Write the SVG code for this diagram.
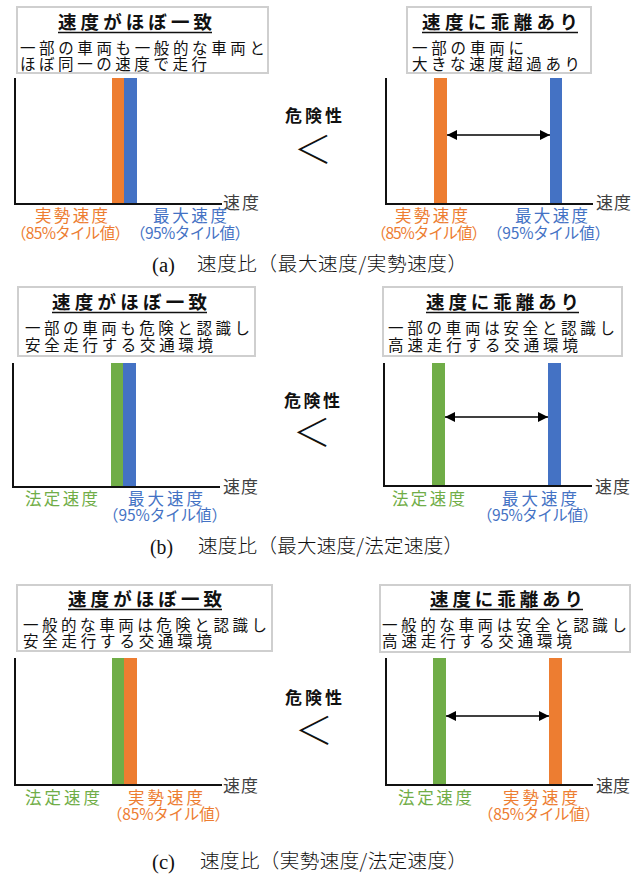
<svg xmlns="http://www.w3.org/2000/svg" width="643" height="877" viewBox="0 0 643 877">
<defs>
<style>
.box{fill:#fff;stroke:#cfcfcf;stroke-width:2}
.t{font-family:"Noto Sans CJK JP","Noto Sans CJK SC",sans-serif;fill:#111}
.title{font-size:18.5px;font-weight:bold}
.line{font-size:15.5px}
.ul{stroke:#111;stroke-width:1.3}
.ax{stroke:#111;stroke-width:2;fill:none}
.axl{font-family:"Noto Sans CJK JP",sans-serif;font-size:17px;fill:#404040}
.lbl{font-family:"Noto Sans CJK JP",sans-serif;font-size:16.5px}
.sub{font-family:"Noto Sans CJK JP",sans-serif;font-size:15.5px}
.or{fill:#ED7D31}.bl{fill:#4472C4}.gr{fill:#70AD47}
.dg{font-family:"Noto Sans CJK JP",sans-serif;font-size:17px;font-weight:bold;fill:#111}
.lt{font-family:"Noto Sans CJK JP",sans-serif;font-size:38px;font-weight:300;fill:#111}
.cap{font-family:"Liberation Serif","Noto Sans CJK JP",serif;font-size:20px;fill:#111}
.capj{font-family:"Noto Sans CJK JP",serif;font-size:19.5px;font-weight:300;fill:#111}
.arr{stroke:#000;stroke-width:1.6;fill:none}
</style>
<marker id="ah" viewBox="0 0 10 10" refX="10" refY="5" markerWidth="11" markerHeight="10" markerUnits="userSpaceOnUse" orient="auto-start-reverse">
<path d="M0,0 L10,5 L0,10 z" fill="#000"/>
</marker>
</defs>

<!-- ===== Panel (a) ===== -->
<g id="a-left">
<rect class="box" x="17" y="7" width="251" height="66"/>
<text class="t title" x="58" y="29" textLength="154" lengthAdjust="spacing">速度がほぼ一致</text>
<line class="ul" x1="58" y1="32.5" x2="212" y2="32.5"/>
<text class="t line" x="20" y="54" textLength="245" lengthAdjust="spacing">一部の車両も一般的な車両と</text>
<text class="t line" x="20" y="69.5" textLength="187" lengthAdjust="spacing">ほぼ同一の速度で走行</text>
<rect class="or" x="112" y="78" width="12" height="126"/>
<rect class="bl" x="124" y="78" width="13" height="126"/>
<polyline class="ax" points="15,78 15,204 222,204"/>
<text class="axl" x="223" y="209" textLength="36" lengthAdjust="spacing">速度</text>
<text class="lbl or" x="35" y="222" textLength="73" lengthAdjust="spacing">実勢速度</text>
<text class="sub or" x="11" y="239" textLength="119" lengthAdjust="spacing">（85%タイル値）</text>
<text class="lbl bl" x="153" y="222" textLength="74" lengthAdjust="spacing">最大速度</text>
<text class="sub bl" x="130" y="239" textLength="120" lengthAdjust="spacing">（95%タイル値）</text>
</g>

<g id="a-mid">
<text class="dg" x="285" y="122" textLength="57" lengthAdjust="spacing">危険性</text>
<text class="lt" x="294" y="163">＜</text>
</g>

<g id="a-right">
<rect class="box" x="407" y="7" width="184" height="66"/>
<text class="t title" x="422" y="29" textLength="156" lengthAdjust="spacing">速度に乖離あり</text>
<line class="ul" x1="422" y1="32.5" x2="578" y2="32.5"/>
<text class="t line" x="412" y="54" textLength="112" lengthAdjust="spacing">一部の車両に</text>
<text class="t line" x="412" y="69.5" textLength="168" lengthAdjust="spacing">大きな速度超過あり</text>
<rect class="or" x="434" y="78" width="13" height="126"/>
<rect class="bl" x="550" y="78" width="12" height="126"/>
<polyline class="ax" points="386,78 386,204 593,204"/>
<text class="axl" x="596" y="209" textLength="35" lengthAdjust="spacing">速度</text>
<text class="lbl or" x="395" y="222" textLength="73" lengthAdjust="spacing">実勢速度</text>
<text class="sub or" x="371" y="239" textLength="116" lengthAdjust="spacing">（85%タイル値）</text>
<text class="lbl bl" x="515" y="222" textLength="73" lengthAdjust="spacing">最大速度</text>
<text class="sub bl" x="487" y="239" textLength="123" lengthAdjust="spacing">（95%タイル値）</text>
</g>

<g id="a-caption">
<text class="cap" x="152" y="272" textLength="23" lengthAdjust="spacingAndGlyphs">(a)</text>
<text class="capj" x="197" y="271" textLength="270" lengthAdjust="spacing">速度比（最大速度/実勢速度）</text>
</g>

<!-- ===== Panel (b) ===== -->
<g id="b-left">
<rect class="box" x="18" y="287" width="237" height="69"/>
<text class="t title" x="52" y="309" textLength="155" lengthAdjust="spacing">速度がほぼ一致</text>
<line class="ul" x1="52" y1="312.5" x2="207" y2="312.5"/>
<text class="t line" x="25" y="334" textLength="225" lengthAdjust="spacing">一部の車両も危険と認識し</text>
<text class="t line" x="25" y="351" textLength="188" lengthAdjust="spacing">安全走行する交通環境</text>
<rect class="gr" x="111" y="363" width="12" height="124"/>
<rect class="bl" x="123" y="363" width="13" height="124"/>
<polyline class="ax" points="13,363 13,487 220,487"/>
<text class="axl" x="223" y="493" textLength="35" lengthAdjust="spacing">速度</text>
<text class="lbl gr" x="25" y="505" textLength="73" lengthAdjust="spacing">法定速度</text>
<text class="lbl bl" x="128" y="505" textLength="75" lengthAdjust="spacing">最大速度</text>
<text class="sub bl" x="103" y="521" textLength="124" lengthAdjust="spacing">（95%タイル値）</text>
</g>

<g id="b-mid">
<text class="dg" x="284" y="407" textLength="56" lengthAdjust="spacing">危険性</text>
<text class="lt" x="293" y="446">＜</text>
</g>

<g id="b-right">
<rect class="box" x="383" y="287" width="239" height="69"/>
<text class="t title" x="426" y="309" textLength="153" lengthAdjust="spacing">速度に乖離あり</text>
<line class="ul" x1="426" y1="312.5" x2="579" y2="312.5"/>
<text class="t line" x="388" y="334" textLength="227" lengthAdjust="spacing">一部の車両は安全と認識し</text>
<text class="t line" x="388" y="351" textLength="190" lengthAdjust="spacing">高速走行する交通環境</text>
<rect class="gr" x="432" y="363" width="13" height="123"/>
<rect class="bl" x="548" y="363" width="13" height="123"/>
<polyline class="ax" points="384,363 384,486 592,486"/>
<text class="axl" x="595" y="493" textLength="35" lengthAdjust="spacing">速度</text>
<text class="lbl gr" x="392" y="505" textLength="73" lengthAdjust="spacing">法定速度</text>
<text class="lbl bl" x="502" y="505" textLength="75" lengthAdjust="spacing">最大速度</text>
<text class="sub bl" x="477" y="521" textLength="121" lengthAdjust="spacing">（95%タイル値）</text>
</g>

<g id="b-caption">
<text class="cap" x="150" y="554" textLength="23" lengthAdjust="spacingAndGlyphs">(b)</text>
<text class="capj" x="198" y="553" textLength="265" lengthAdjust="spacing">速度比（最大速度/法定速度）</text>
</g>

<!-- ===== Panel (c) ===== -->
<g id="c-left">
<rect class="box" x="17" y="585" width="255" height="66"/>
<text class="t title" x="68" y="606" textLength="154" lengthAdjust="spacing">速度がほぼ一致</text>
<line class="ul" x1="68" y1="609.5" x2="222" y2="609.5"/>
<text class="t line" x="23" y="631" textLength="244" lengthAdjust="spacing">一般的な車両は危険と認識し</text>
<text class="t line" x="23" y="647" textLength="189" lengthAdjust="spacing">安全走行する交通環境</text>
<rect class="gr" x="112" y="658" width="12" height="127"/>
<rect class="or" x="124" y="658" width="13" height="127"/>
<polyline class="ax" points="15,658 15,785 222,785"/>
<text class="axl" x="223" y="792" textLength="35" lengthAdjust="spacing">速度</text>
<text class="lbl gr" x="25" y="804" textLength="75" lengthAdjust="spacing">法定速度</text>
<text class="lbl or" x="128" y="804" textLength="75" lengthAdjust="spacing">実勢速度</text>
<text class="sub or" x="107" y="820" textLength="123" lengthAdjust="spacing">（85%タイル値）</text>
</g>

<g id="c-mid">
<text class="dg" x="285" y="704" textLength="57" lengthAdjust="spacing">危険性</text>
<text class="lt" x="295" y="744">＜</text>
</g>

<g id="c-right">
<rect class="box" x="380" y="585" width="250" height="67"/>
<text class="t title" x="430" y="606" textLength="153" lengthAdjust="spacing">速度に乖離あり</text>
<line class="ul" x1="430" y1="609.5" x2="583" y2="609.5"/>
<text class="t line" x="382" y="631" textLength="245" lengthAdjust="spacing">一般的な車両は安全と認識し</text>
<text class="t line" x="382" y="647" textLength="190" lengthAdjust="spacing">高速走行する交通環境</text>
<rect class="gr" x="433" y="658" width="13" height="127"/>
<rect class="or" x="549" y="658" width="13" height="127"/>
<polyline class="ax" points="386,658 386,785 593,785"/>
<text class="axl" x="596" y="792" textLength="34" lengthAdjust="spacing">速度</text>
<text class="lbl gr" x="398" y="804" textLength="74" lengthAdjust="spacing">法定速度</text>
<text class="lbl or" x="503" y="804" textLength="75" lengthAdjust="spacing">実勢速度</text>
<text class="sub or" x="478" y="820" textLength="122" lengthAdjust="spacing">（85%タイル値）</text>
</g>

<g id="c-caption">
<text class="cap" x="152" y="869" textLength="23" lengthAdjust="spacingAndGlyphs">(c)</text>
<text class="capj" x="200" y="868" textLength="267" lengthAdjust="spacing">速度比（実勢速度/法定速度）</text>
</g>

<!-- ===== Connectors ===== -->
<g id="connectors">
<line class="arr" x1="447" y1="135" x2="550" y2="135" marker-start="url(#ah)" marker-end="url(#ah)"/>
<line class="arr" x1="445" y1="417" x2="548" y2="417" marker-start="url(#ah)" marker-end="url(#ah)"/>
<line class="arr" x1="446" y1="716" x2="549" y2="716" marker-start="url(#ah)" marker-end="url(#ah)"/>
</g>
</svg>
